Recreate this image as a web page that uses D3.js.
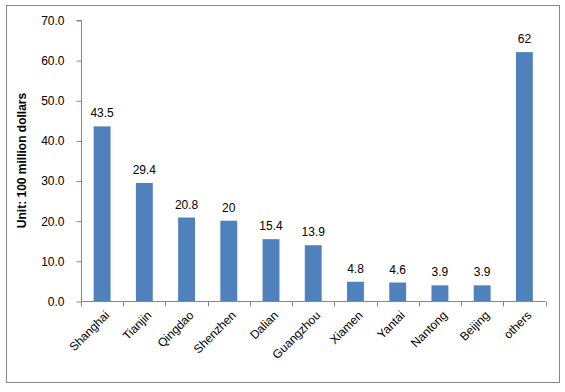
<!DOCTYPE html>
<html>
<head>
<meta charset="utf-8">
<script src="https://cdn.jsdelivr.net/npm/d3@7"></script>
<style>
  body { margin: 0; background: #fff; }
  text { font-family: "Liberation Sans", Arial, sans-serif; fill: #000; }
</style>
</head>
<body>
<svg id="chart" width="565" height="392"></svg>
<script>
const categories = ["Shanghai", "Tianjin", "Qingdao", "Shenzhen", "Dalian", "Guangzhou", "Xiamen", "Yantai", "Nantong", "Beijing", "others"];
const values = [43.5, 29.4, 20.8, 20, 15.4, 13.9, 4.8, 4.6, 3.9, 3.9, 62];
const valueLabels = ["43.5", "29.4", "20.8", "20", "15.4", "13.9", "4.8", "4.6", "3.9", "3.9", "62"];
const yTicks = [0, 10, 20, 30, 40, 50, 60, 70];
const yTitle = "Unit: 100 million dollars";

const svg = d3.select("#chart");
const W = 565, H = 392;

// outer border
svg.append("rect").attr("x", 6.5).attr("y", 5.5).attr("width", 553).attr("height", 377)
  .attr("fill", "none").attr("stroke", "#868686").attr("stroke-width", 1);

const plot = { left: 81, right: 545.5, top: 20, bottom: 301 };

const x = d3.scaleBand().domain(categories).range([plot.left, plot.right]).paddingInner(0.6).paddingOuter(0.3);
const xb = d3.scaleBand().domain(categories).range([plot.left, plot.right]);
const y = d3.scaleLinear().domain([0, 70]).range([plot.bottom, plot.top]);

// y axis
const yAxis = d3.axisLeft(y).tickValues(yTicks).tickFormat(d3.format(".1f")).tickSize(5).tickPadding(12);
const gy = svg.append("g").attr("transform", `translate(${plot.left + 0.5},0.5)`).call(yAxis);
gy.selectAll("path, line").attr("stroke", "#868686");
gy.selectAll("text").attr("font-size", "12px").attr("fill", "#000").attr("font-family", "Liberation Sans, Arial, sans-serif");
gy.select(".domain").attr("d", `M-5,${plot.top}H0V${plot.bottom}`);

// x axis with ticks at category boundaries
const gx = svg.append("g").attr("transform", `translate(0,${plot.bottom + 0.5})`);
gx.append("line").attr("x1", plot.left).attr("x2", plot.right).attr("stroke", "#868686");
const bounds = categories.map(c => xb(c)).concat([plot.right]);
gx.selectAll("line.tick").data(bounds).enter().append("line")
  .attr("class", "tick")
  .attr("x1", d => Math.round(d) + 0.5).attr("x2", d => Math.round(d) + 0.5)
  .attr("y1", 0).attr("y2", 5).attr("stroke", "#868686");

// bars
svg.append("g").selectAll("rect").data(values).enter().append("rect")
  .attr("x", (d, i) => x(categories[i]))
  .attr("y", d => y(d))
  .attr("width", x.bandwidth())
  .attr("height", d => y(0) - y(d))
  .attr("fill", "#4F81BD");

// value labels
svg.append("g").selectAll("text").data(values).enter().append("text")
  .attr("x", (d, i) => x(categories[i]) + x.bandwidth() / 2)
  .attr("y", d => y(d) - 9)
  .attr("text-anchor", "middle")
  .attr("font-size", "12px")
  .text((d, i) => valueLabels[i]);

// x labels rotated
svg.append("g").selectAll("text").data(categories).enter().append("text")
  .attr("transform", d => `translate(${x(d) + x.bandwidth() / 2 + 5},${plot.bottom + 12}) rotate(-45)`)
  .attr("text-anchor", "end")
  .attr("dy", "0.35em")
  .attr("font-size", "12px")
  .text(d => d);

// y title
svg.append("text")
  .attr("transform", `translate(26,${(plot.top + plot.bottom) / 2}) rotate(-90)`)
  .attr("text-anchor", "middle")
  .attr("font-size", "12px")
  .attr("font-weight", "bold")
  .text(yTitle);
</script>
</body>
</html>
